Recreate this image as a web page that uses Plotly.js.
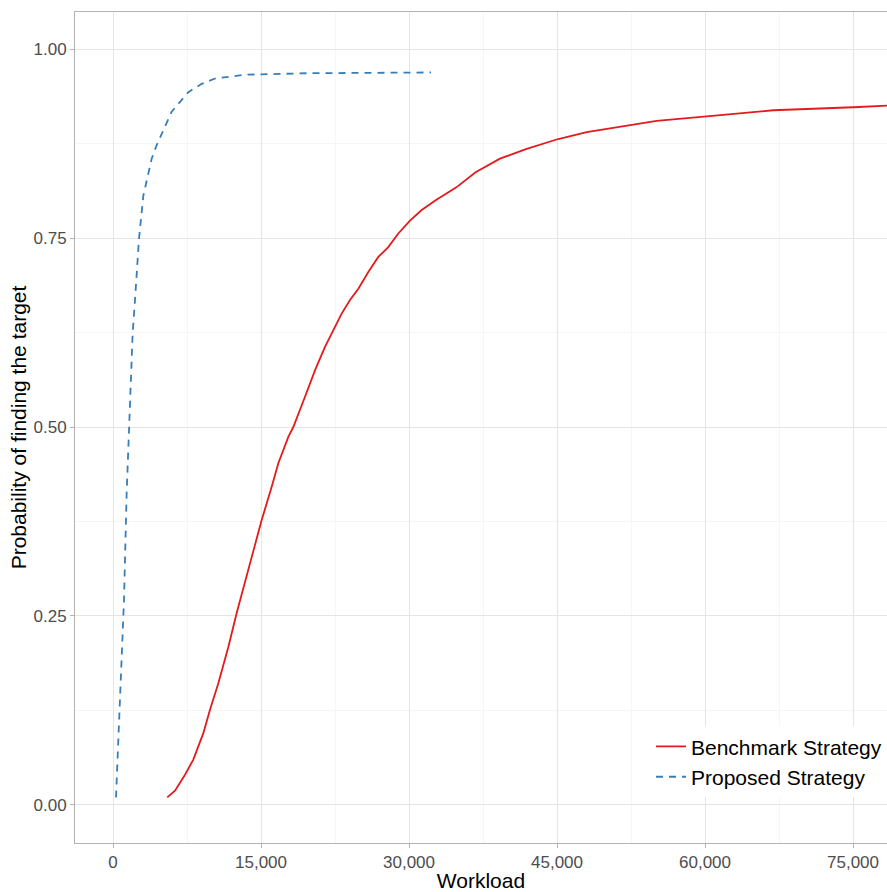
<!DOCTYPE html>
<html>
<head>
<meta charset="utf-8">
<script src="https://cdn.plot.ly/plotly-3.0.1.min.js"></script>
<style>html,body{margin:0;padding:0;background:#fff;}#chart{width:887px;height:892px;}</style>
</head>
<body>
<div id="chart"></div>
<script>
// Proposed Strategy (blue dashed)
const proposedX = [304, 643, 880, 1115, 1385, 1620, 1993, 2230, 2635, 3075, 3920, 4430, 5945, 7635, 8990, 10340, 13380, 19760, 32230];
const proposedY = [0.010, 0.122, 0.209, 0.271, 0.413, 0.500, 0.624, 0.668, 0.749, 0.806, 0.855, 0.873, 0.917, 0.943, 0.954, 0.961, 0.966, 0.968, 0.969];

// Benchmark Strategy (red solid)
const benchmarkX = [5500, 6285, 7300, 8140, 9155, 9830, 10675, 11690, 12535, 13450, 14100, 15070, 16085, 16755, 17770, 18275, 19460, 20470, 21485, 22330, 23175, 24020, 24865, 25875, 26890, 27900, 28915, 30100, 31285, 32700, 34800, 36750, 39220, 41925, 45130, 48010, 52730, 55100, 60170, 66920, 75030, 78440, 80000];
const benchmarkY = [0.010, 0.019, 0.040, 0.060, 0.095, 0.126, 0.161, 0.209, 0.254, 0.298, 0.332, 0.377, 0.421, 0.452, 0.487, 0.500, 0.540, 0.575, 0.606, 0.628, 0.650, 0.668, 0.683, 0.705, 0.725, 0.738, 0.756, 0.773, 0.787, 0.800, 0.817, 0.837, 0.855, 0.868, 0.881, 0.890, 0.900, 0.905, 0.911, 0.919, 0.923, 0.925, 0.926];

const xTicks = [0, 15000, 30000, 45000, 60000, 75000];
const yTicks = [0, 0.25, 0.5, 0.75, 1.0];
const seriesNames = ["Benchmark Strategy", "Proposed Strategy"];

const FONT = "Liberation Sans, Arial, Helvetica, sans-serif";

const traces = [
  {x: benchmarkX, y: benchmarkY, type: "scatter", mode: "lines", name: seriesNames[0],
   line: {color: "#E41A1C", width: 1.8}},
  {x: proposedX, y: proposedY, type: "scatter", mode: "lines", name: seriesNames[1],
   line: {color: "#377EB8", width: 1.8, dash: "7px,6px"}}
];

const layout = {
  width: 887, height: 892,
  margin: {l: 75, r: 0, t: 12, b: 49},
  paper_bgcolor: "#fff", plot_bgcolor: "#fff",
  font: {family: FONT, color: "#000"},
  showlegend: true,
  legend: {x: 1, xanchor: "right", y: 0.055, yanchor: "bottom", bgcolor: "#fff",
           font: {size: 21, family: FONT, color: "#000"}, tracegroupgap: 0, itemwidth: 30},
  xaxis: {
    range: [-3851, 78445], tickvals: xTicks, tickformat: ",d",
    ticks: "outside", ticklen: 4, tickcolor: "#b3b3b3", tickwidth: 1,
    tickfont: {size: 17, color: "#4d4d4d", family: FONT},
    showgrid: true, gridcolor: "#e5e5e5", gridwidth: 1,
    minor: {dtick: 7500, tick0: 0, showgrid: true, gridcolor: "#f2f2f2", gridwidth: 0.7, ticks: ""},
    zeroline: false, showline: true, linecolor: "#b3b3b3", linewidth: 1, mirror: true,
    title: {text: "Workload", font: {size: 21, color: "#000", family: FONT}, standoff: 6}
  },
  yaxis: {
    range: [-0.0503, 1.049], tickvals: yTicks, tickformat: ".2f",
    ticks: "outside", ticklen: 4, tickcolor: "#b3b3b3", tickwidth: 1,
    tickfont: {size: 17, color: "#4d4d4d", family: FONT},
    showgrid: true, gridcolor: "#e5e5e5", gridwidth: 1,
    minor: {dtick: 0.125, tick0: 0, showgrid: true, gridcolor: "#f2f2f2", gridwidth: 0.7, ticks: ""},
    zeroline: false, showline: true, linecolor: "#b3b3b3", linewidth: 1, mirror: true,
    title: {text: "Probability of finding the target", font: {size: 21, color: "#000", family: FONT}, standoff: 1}
  }
};

Plotly.newPlot("chart", traces, layout, {displayModeBar: false, staticPlot: true});
</script>
</body>
</html>
